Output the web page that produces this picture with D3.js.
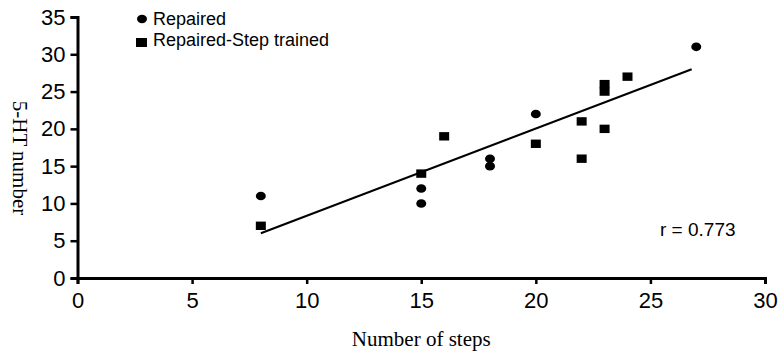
<!DOCTYPE html>
<html>
<head>
<meta charset="utf-8">
<script src="https://cdn.jsdelivr.net/npm/d3@7"></script>
<style>
  body { margin: 0; background: #fff; }
  svg { display: block; }
  .axis path, .axis line { stroke: #000; }
  .axis text { font-family: "Liberation Sans", Arial, sans-serif; font-size: 22px; fill: #000; }
</style>
</head>
<body>
<div id="chart"></div>
<script>
// data
const repairedSteps = [8, 15, 15, 18, 18, 20, 27];
const repairedHT    = [11, 12, 10, 16, 15, 22, 31];
const trainedSteps  = [8, 15, 16, 20, 22, 22, 23, 23, 23, 24];
const trainedHT     = [7, 14, 19, 18, 21, 16, 26, 25, 20, 27];
// regression line end points
const fitSteps = [8, 26.8];
const fitHT    = [6, 28];
const xTicks = [0, 5, 10, 15, 20, 25, 30];
const yTicks = [0, 5, 10, 15, 20, 25, 30, 35];
const legendLabels = ['Repaired', 'Repaired-Step trained'];
const rLabel = 'r = 0.773';

const width = 781, height = 354;
const margin = {left: 77.5, right: 16, top: 17, bottom: 76};

const svg = d3.select('#chart').append('svg')
    .attr('width', width)
    .attr('height', height);

const x = d3.scaleLinear([0, 30], [margin.left, width - margin.right]);
const y = d3.scaleLinear([0, 35], [height - margin.bottom, margin.top]);

// axes
const axisX = svg.append('g')
    .attr('class', 'axis')
    .attr('transform', `translate(0, ${y(0)})`)
    .call(d3.axisBottom(x).tickValues(xTicks).tickSize(6).tickPadding(8));
axisX.select('.domain').attr('stroke-width', 3);
axisX.selectAll('.tick line').attr('stroke-width', 2.5);

const axisY = svg.append('g')
    .attr('class', 'axis')
    .attr('transform', `translate(${x(0)}, 0)`)
    .call(d3.axisLeft(y).tickValues(yTicks).tickSize(7).tickPadding(5));
axisY.select('.domain').attr('stroke-width', 3);
axisY.selectAll('.tick line').attr('stroke-width', 2.5);

// regression line
svg.append('line')
    .attr('x1', x(fitSteps[0])).attr('y1', y(fitHT[0]))
    .attr('x2', x(fitSteps[1])).attr('y2', y(fitHT[1]))
    .attr('stroke', '#000')
    .attr('stroke-width', 2);

// points
const repaired = repairedSteps.map((s, i) => ({steps: s, ht: repairedHT[i]}));
const trained = trainedSteps.map((s, i) => ({steps: s, ht: trainedHT[i]}));

svg.append('g').selectAll('ellipse')
    .data(repaired)
    .join('ellipse')
    .attr('cx', d => x(d.steps))
    .attr('cy', d => y(d.ht))
    .attr('rx', 5).attr('ry', 4.3)
    .attr('fill', '#000');

svg.append('g').selectAll('rect')
    .data(trained)
    .join('rect')
    .attr('x', d => x(d.steps) - 5)
    .attr('y', d => y(d.ht) - 4.2)
    .attr('width', 10).attr('height', 8.4)
    .attr('fill', '#000');

// legend
const legend = svg.append('g').attr('transform', 'translate(141, 0)');
legend.append('ellipse')
    .attr('cx', 1).attr('cy', 19).attr('rx', 5).attr('ry', 4.2)
    .attr('fill', '#000');
legend.append('rect')
    .attr('x', -5).attr('y', 38).attr('width', 11).attr('height', 9)
    .attr('fill', '#000');
legend.selectAll('text')
    .data(legendLabels)
    .join('text')
    .attr('x', 12)
    .attr('y', (d, i) => 25 + i * 21)
    .attr('font-family', '"Liberation Sans", Arial, sans-serif')
    .attr('font-size', 18)
    .text(d => d);

// correlation note
svg.append('text')
    .attr('x', 660).attr('y', 236)
    .attr('font-family', '"Liberation Sans", Arial, sans-serif')
    .attr('font-size', 19)
    .text(rLabel);

// axis titles
svg.append('text')
    .attr('x', (x(0) + x(30)) / 2).attr('y', 346)
    .attr('text-anchor', 'middle')
    .attr('font-family', '"Liberation Serif", "Times New Roman", serif')
    .attr('font-size', 21)
    .text('Number of steps');

svg.append('text')
    .attr('transform', `translate(13, 158) rotate(90)`)
    .attr('text-anchor', 'middle')
    .attr('font-family', '"Liberation Serif", "Times New Roman", serif')
    .attr('font-size', 21)
    .text('5-HT number');
</script>
</body>
</html>
